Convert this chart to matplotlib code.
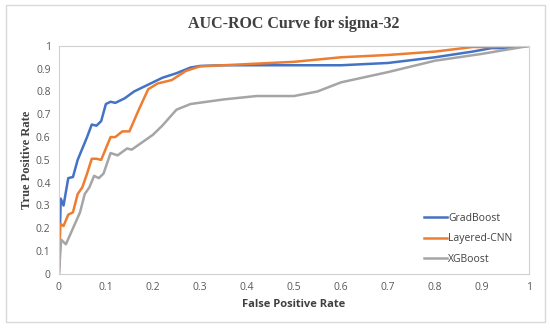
import numpy as np
import matplotlib.pyplot as plt
from matplotlib.patches import Rectangle

# values
grad_fpr = [0, 0.004, 0.01, 0.02, 0.03, 0.04, 0.05, 0.06, 0.07, 0.08, 0.09, 0.1, 0.11,
            0.12, 0.14, 0.16, 0.19, 0.22, 0.25, 0.28, 0.3, 0.35, 0.5, 0.6, 0.7, 0.8,
            0.88, 0.92, 0.95, 1.0]
grad_tpr = [0, 0.33, 0.30, 0.42, 0.425, 0.50, 0.55, 0.60, 0.655, 0.65, 0.67, 0.745, 0.755,
            0.75, 0.77, 0.80, 0.83, 0.86, 0.88, 0.905, 0.912, 0.915, 0.915, 0.915, 0.925, 0.95,
            0.975, 0.99, 0.99, 1.0]

cnn_fpr = [0, 0.003, 0.01, 0.02, 0.03, 0.04, 0.05, 0.06, 0.07, 0.08, 0.09, 0.1, 0.11,
           0.12, 0.135, 0.15, 0.17, 0.19, 0.21, 0.24, 0.27, 0.3, 0.35, 0.4, 0.5, 0.6,
           0.7, 0.8, 0.88, 0.92, 1.0]
cnn_tpr = [0, 0.22, 0.21, 0.26, 0.27, 0.35, 0.38, 0.44, 0.505, 0.505, 0.50, 0.55, 0.60,
           0.60, 0.625, 0.625, 0.72, 0.81, 0.835, 0.85, 0.89, 0.91, 0.915, 0.92, 0.93, 0.95,
           0.96, 0.975, 0.995, 0.995, 1.0]

xgb_fpr = [0, 0.005, 0.015, 0.03, 0.045, 0.055, 0.065, 0.075, 0.085, 0.095, 0.11, 0.125,
           0.145, 0.155, 0.2, 0.22, 0.25, 0.28, 0.35, 0.42, 0.5, 0.55, 0.6, 0.7, 0.8,
           0.9, 1.0]
xgb_tpr = [0, 0.15, 0.13, 0.20, 0.27, 0.35, 0.38, 0.43, 0.42, 0.44, 0.53, 0.52,
           0.55, 0.545, 0.61, 0.65, 0.72, 0.745, 0.765, 0.78, 0.78, 0.80, 0.84, 0.885, 0.935,
           0.965, 1.0]

labels = ['GradBoost', 'Layered-CNN', 'XGBoost']
colors = ['#4472C4', '#ED7D31', '#A5A5A5']

fig = plt.figure(figsize=(5.5, 3.3), dpi=100)
fig.patches.append(Rectangle((0.011, 0.024), 0.98, 0.96, transform=fig.transFigure,
                             fill=False, edgecolor='#D9D9D9', linewidth=1))
ax = fig.add_axes([0.107, 0.170, 0.855, 0.691])

ax.plot(grad_fpr, grad_tpr, color=colors[0], lw=1.8, label=labels[0])
ax.plot(cnn_fpr, cnn_tpr, color=colors[1], lw=1.8, label=labels[1])
ax.plot(xgb_fpr, xgb_tpr, color=colors[2], lw=1.8, label=labels[2])

ax.set_xlim(0, 1)
ax.set_ylim(0, 1)
ax.set_xticks(np.arange(0, 1.01, 0.1))
ax.set_yticks(np.arange(0, 1.01, 0.1))
ax.set_xticklabels(['0', '0.1', '0.2', '0.3', '0.4', '0.5', '0.6', '0.7', '0.8', '0.9', '1'])
ax.set_yticklabels(['0', '0.1', '0.2', '0.3', '0.4', '0.5', '0.6', '0.7', '0.8', '0.9', '1'])
ax.tick_params(length=0, labelsize=7.5, labelcolor='#595959', pad=6)
for lab in ax.get_xticklabels() + ax.get_yticklabels():
    lab.set_family('Open Sans')
for s in ax.spines.values():
    s.set_color('#D0D0D0')

ax.set_title('AUC-ROC Curve for sigma-32', family='Liberation Serif', fontweight='bold',
             fontsize=11.5, color='#404040', pad=13)
ax.set_xlabel('False Positive Rate', family='Open Sans', fontweight='bold', fontsize=8,
              color='#404040', labelpad=4)
ax.set_ylabel('True Positive Rate', family='Liberation Serif', fontweight='bold', fontsize=9,
              color='#404040', labelpad=2)

leg = ax.legend(loc='lower right', bbox_to_anchor=(0.985, 0.0), frameon=False,
                handlelength=2.2, handletextpad=0.1, labelspacing=0.9,
                prop={'family': 'Open Sans', 'size': 7.5})
for t in leg.get_texts():
    t.set_color('#404040')

fig.savefig('out.png', dpi=100)
